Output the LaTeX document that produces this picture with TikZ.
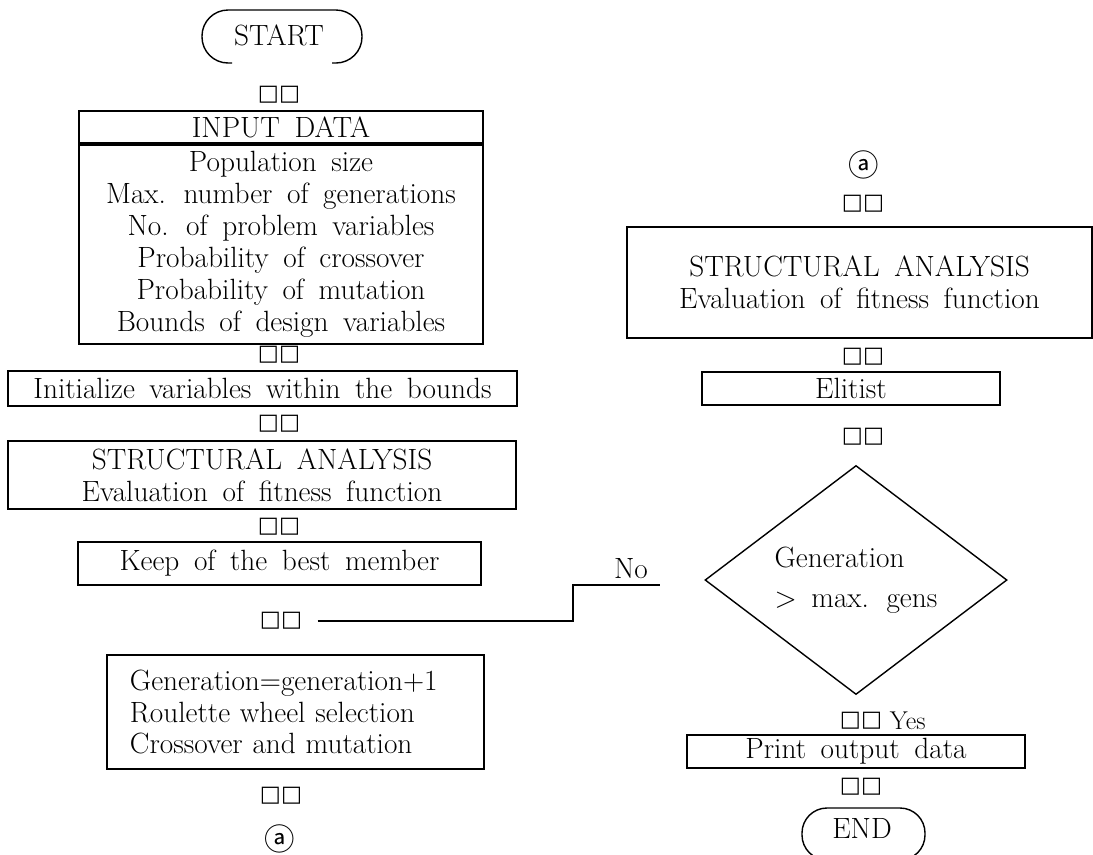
\documentclass[tikz,border=0pt]{standalone}
\usepackage{fontspec}
\setmainfont{Latin Modern Roman}[WordSpace=1.65]
\newfontfamily\symfont{DejaVu Sans}
\newfontfamily\cjkfont{Noto Sans CJK KR}
\usepackage{tikz}
\usetikzlibrary{positioning,calc,shapes.geometric}

\begin{document}
\begin{tikzpicture}[x=0.03cm,y=-0.03cm,
  txt/.style={font=\fontsize{25}{27.2}\selectfont},
  box/.style={draw,line width=1.6pt,inner sep=0pt,txt,align=center},
  arr/.style={font=\symfont\fontsize{19}{19}\selectfont,inner sep=2pt},
  circ/.style={font=\cjkfont\fontsize{26}{26}\selectfont,inner sep=0pt}]
\useasboundingbox (0,0) rectangle (1093,854);
% left column
\node[txt] (start) at (279,35) {START};
\draw[line width=1.2pt,rounded corners=0.78cm] (232,63) -- (202,63) -- (202,10) -- (362,10) -- (362,63) -- (332,63);
\node[arr] (a1) at (279,95) {□□};
\node[box,minimum width=12.12cm,minimum height=0.96cm] (inhead) at (281,127) {INPUT DATA};
\node[box,minimum width=12.12cm,minimum height=5.97cm,below=0pt of inhead] (input) {Population size\\Max. number of generations\\No. of problem variables\\Probability of crossover\\Probability of mutation\\Bounds of design variables};
\node[arr] (a2) at (279,355) {□□};
\node[box,minimum width=15.27cm,minimum height=1.05cm] (init) at (262.5,388.5) {Initialize variables within the bounds};
\node[arr] (a3) at (279,424) {□□};
\node[box,minimum width=15.24cm,minimum height=2.04cm] (sa1) at (262,475) {STRUCTURAL ANALYSIS\\Evaluation of fitness function};
\node[arr] (a4) at (279,527) {□□};
\node[box,minimum width=12.09cm,minimum height=1.29cm] (keep) at (279.5,563.5) {Keep of the best member};
\node[arr] (a5) at (281,621) {□□};
\node[box,text width=9.93cm,inner xsep=0.69cm,align=left,minimum height=3.42cm] (gen) at (295.5,712) {Generation=generation+1\\Roulette wheel selection\\Crossover and mutation};
\node[arr] (a6) at (281,796) {□□};
\node[circ] (c1) at (280,839) {ⓐ};
% right column
\node[circ] (c2) at (864,165) {ⓐ};
\node[arr] (a7) at (863,204) {□□};
\node[box,minimum width=13.95cm,minimum height=3.33cm] (sa2) at (859.5,282.5) {STRUCTURAL ANALYSIS\\Evaluation of fitness function};
\node[arr] (a8) at (863,357) {□□};
\node[box,minimum width=8.94cm,minimum height=0.99cm] (elit) at (851,388.5) {Elitist};
\node[arr] (a9) at (863,437) {□□};
\node[draw,diamond,line width=1.2pt,minimum width=9.06cm,minimum height=6.75cm,inner sep=0pt,font=\fontsize{25}{34}\selectfont,align=left] (cond) at (856,580) {Generation\\$>$ max. gens};
\node[arr] (a10) at (861,721) {□□};
\node[font=\fontsize{22}{22}\selectfont,right=1pt of a10] (yes) {Yes};
\node[box,minimum width=10.14cm,minimum height=0.99cm] (print) at (856,751.5) {Print output data};
\node[arr] (a11) at (861,787) {□□};
\node[txt] (end) at (862,828) {END};
\draw[line width=1.2pt,rounded corners=0.75cm] (830,860) -- (802,860) -- (802,808) -- (925,808) -- (925,860) -- (895,860);
% "No" branch back to the loop
\coordinate (noend) at (660,585);
\draw[line width=1.4pt,shorten <=0.39cm] (a5.east) -| ($(noend)+(-87,0)$) -- (noend);
\node[txt] (no) at (631,569) {No};
\end{tikzpicture}
\end{document}
